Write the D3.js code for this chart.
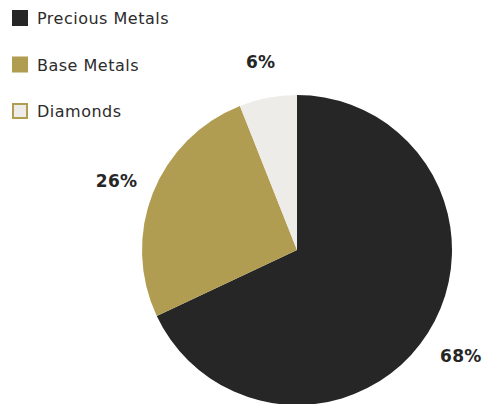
<!DOCTYPE html>
<html lang="en">
<head>
  <meta charset="UTF-8">
  <script src="https://cdnjs.cloudflare.com/ajax/libs/d3/7.8.5/d3.min.js"></script>
  <style>
    body { margin: 0; background: #fff; font-family: 'DejaVu Sans', sans-serif; }
    .legend-text { font-size: 16px; fill: #2b2b2b; letter-spacing: 0.5px; }
    .pct { font-size: 17px; font-weight: bold; fill: #262626; letter-spacing: 0.3px; }
  </style>
  <title>Pie</title>
</head>
<body>
  <div id="chart"></div>
<script>
  const categories = ["Precious Metals", "Base Metals", "Diamonds"];
  const values = [68, 26, 6];
  const colors = ["#262626", "#b09d52", "#eeece8"];
  const legendBorder = ["#262626", "#b09d52", "#b09d52"];

  const width = 492, height = 404;
  const cx = 297, cy = 250, radius = 155;

  const svg = d3.select("#chart").append("svg")
    .attr("width", width)
    .attr("height", height);

  // legend
  const legend = svg.append("g").attr("transform", "translate(12,10)");
  const item = legend.selectAll("g").data(categories).enter().append("g")
    .attr("transform", (d, i) => "translate(0," + i * 46.5 + ")");
  item.append("rect")
    .attr("x", 1).attr("y", 1)
    .attr("width", 14).attr("height", 14)
    .attr("fill", (d, i) => colors[i])
    .attr("stroke", (d, i) => legendBorder[i])
    .attr("stroke-width", 2);
  item.append("text")
    .attr("class", "legend-text")
    .attr("x", 25).attr("y", 14)
    .text(d => d);

  // pie
  const pie = d3.pie().sort(null).value(d => d);
  const arcs = pie(values);
  const arc = d3.arc().innerRadius(0).outerRadius(radius);
  const labelArc = d3.arc().innerRadius(194).outerRadius(194);

  const g = svg.append("g").attr("transform", "translate(" + cx + "," + cy + ")");
  g.selectAll("path").data(arcs).enter().append("path")
    .attr("d", arc)
    .attr("fill", (d, i) => colors[i]);

  g.selectAll("text").data(arcs).enter().append("text")
    .attr("class", "pct")
    .attr("transform", d => "translate(" + labelArc.centroid(d) + ")")
    .attr("text-anchor", "middle")
    .attr("dy", "0.5em")
    .text(d => d.data + "%");
</script>
</body>
</html>
